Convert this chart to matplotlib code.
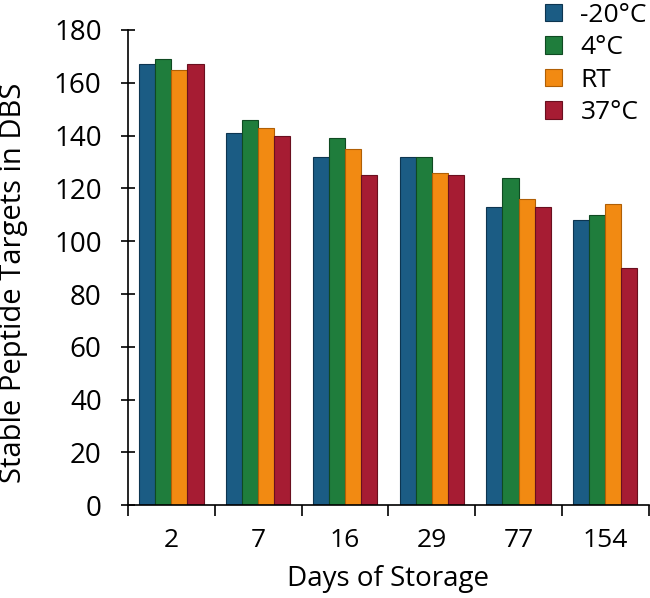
import numpy as np
import matplotlib
matplotlib.use('Agg')
import matplotlib.pyplot as plt

plt.rcParams['font.family'] = ['Open Sans', 'DejaVu Sans']

dias = ['2', '7', '16', '29', '77', '154']
series = ['-20°C', '4°C', 'RT', '37°C']
menos20 = [167, 141, 132, 132, 113, 108]
cuatro = [169, 146, 139, 132, 124, 110]
rt = [165, 143, 135, 126, 116, 114]
treinta7 = [167, 140, 125, 125, 113, 90]
colores = ['#1b5c84', '#1f7d3c', '#f28a12', '#a61c33']
bordes = ['#0d3550', '#0f4a22', '#b05f05', '#6a0f1f']

fig = plt.figure(figsize=(6.5, 5.98), dpi=100)
ax = fig.add_axes([0.197, 0.155, 0.801, 0.795])

x = np.arange(len(dias))
ancho = 0.185
for i, valores in enumerate([menos20, cuatro, rt, treinta7]):
    ax.bar(x + (i - 1.5) * ancho, valores, ancho, color=colores[i],
           edgecolor=bordes[i], linewidth=0.8, label=series[i])

ax.set_xlim(-0.5, len(dias) - 0.5)
ax.set_ylim(0, 180)
ax.set_yticks(range(0, 181, 20))
ax.set_xticks(x)
ax.set_xticklabels(dias)
ax.set_xticks(np.arange(-0.5, len(dias), 1), minor=True)
ax.tick_params(axis='x', which='major', length=0, pad=16, labelsize=19)
ax.tick_params(axis='x', which='minor', length=8, width=1.2, direction='out')
ax.tick_params(axis='y', length=10, width=1.2, direction='inout', labelsize=20, pad=14)

for lado in ['top', 'right']:
    ax.spines[lado].set_visible(False)
ax.spines['left'].set_linewidth(1.2)
ax.spines['bottom'].set_linewidth(1.2)

ax.set_xlabel('Days of Storage', fontsize=20, labelpad=9)
ax.set_ylabel('Stable Peptide Targets in DBS', fontsize=21)
ax.yaxis.set_label_coords(-0.192, 0.469)

fig.legend(loc='upper left', bbox_to_anchor=(0.8015, 1.035), frameon=False,
           fontsize=19, handlelength=0.65, handleheight=0.65, handletextpad=0.7,
           labelspacing=0.28)

plt.savefig('out.png', dpi=100)
